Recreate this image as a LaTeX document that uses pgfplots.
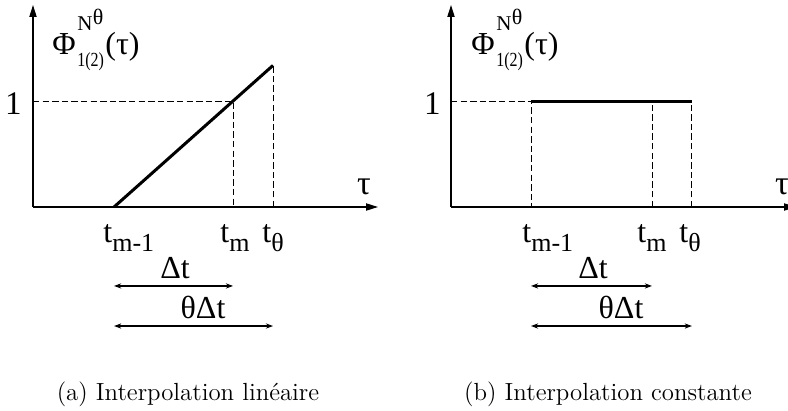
\documentclass[border=0pt]{standalone}
\usepackage{fontspec}
\usepackage{pgfplots}
\pgfplotsset{compat=1.18}
\usetikzlibrary{arrows.meta}
\newfontfamily\ser{Liberation Serif}
\newcommand\fs[1]{\fontsize{#1}{#1}\selectfont}

\pgfplotsset{
  interp/.style={
    scale only axis, width=172.5pt, height=101pt,
    anchor=south west, ymin=0, ymax=1.906,
    axis lines=left, ticks=none, clip=false,
    axis line style={line width=0.7pt, -{Triangle[length=6pt,width=3.6pt]}},
  },
  dash/.style={line width=0.45pt, dash pattern=on 3.2pt off 1.6pt},
  span/.style={line width=0.8pt, {Stealth[length=3.6pt,width=2.6pt]}-{Stealth[length=3.6pt,width=2.6pt]}},
}

\begin{document}
\begin{tikzpicture}
\path[use as bounding box, clip] (0pt,0pt) rectangle (394pt,-205.5pt);

% (a) linear interpolation
\begin{axis}[interp, at={(16.5pt,-103.5pt)}, xmin=0.319, xmax=3.218]
\addplot[dash] coordinates {(0.319,1) (2,1) (2,0)};
\addplot[dash] coordinates {(2.336,0) (2.336,1.336)};
\addplot[line width=1.5pt] coordinates {(1,0) (2.336,1.336)};
\addplot[span] coordinates {(1,-0.745) (2,-0.745)};
\addplot[span] coordinates {(1,-1.123) (2.336,-1.123)};
\end{axis}

% (b) constant interpolation
\begin{axis}[interp, at={(225.5pt,-103.5pt)}, xmin=0.339, xmax=3.19]
\addplot[dash] coordinates {(0.339,1) (1,1) (1,0)};
\addplot[dash] coordinates {(2,0) (2,1)};
\addplot[dash] coordinates {(2.33,0) (2.33,1)};
\addplot[line width=1.5pt] coordinates {(1,1) (2.33,1)};
\addplot[span] coordinates {(1,-0.745) (2,-0.745)};
\addplot[span] coordinates {(1,-1.123) (2.33,-1.123)};
\end{axis}

\begin{scope}[x=0.5pt, y=-0.5pt, every node/.style={inner sep=0pt, font=\ser}]
\foreach \o/\d in {0/0, 418/1} {
  % function label
  \node[anchor=base west, font=\ser\fs{16}] at (52+\o+\d,55) {Φ};
  \node[anchor=base west, font=\ser\fs{10.5}] at (77+\o+\d,31) {N};
  \node[anchor=base west, font=\ser\fs{11}] at (92.5+\o+\d,25) {θ};
  \node[anchor=base west, font=\ser\fs{10}] at (77+\o+\d,67) {\scalebox{0.8}[1]{1(2)}};
  \node[anchor=base west, font=\ser\fs{16}] at (105+\o+\d,55) {(τ)};
  % value 1 and time axis
  \node[anchor=base east, font=\ser\fs{16.5}] at (22+\o+\d,115) {1};
  \node[anchor=base, font=\ser\fs{17}] at (364+\o,195) {τ};
  % span labels
  \node[font=\ser\fs{16}] at (175+\o,268) {Δt};
  \node[font=\ser\fs{16}] at (203+\o,307) {θΔt};
}
% tick labels
\foreach \x/\s in {103/m-1, 220/m, 262/θ, 522/m-1, 637/m, 679/θ}
  \node[anchor=base west] at (\x,243) {{\fs{16}t}\raisebox{-4.5pt}{\fs{13}\s}};
% captions
\node[font=\rmfamily\fs{12.4}] at (188,394) {(a) Interpolation linéaire};
\node[font=\rmfamily\fs{12.4}] at (608,394) {(b) Interpolation constante};
\end{scope}
\end{tikzpicture}
\end{document}
